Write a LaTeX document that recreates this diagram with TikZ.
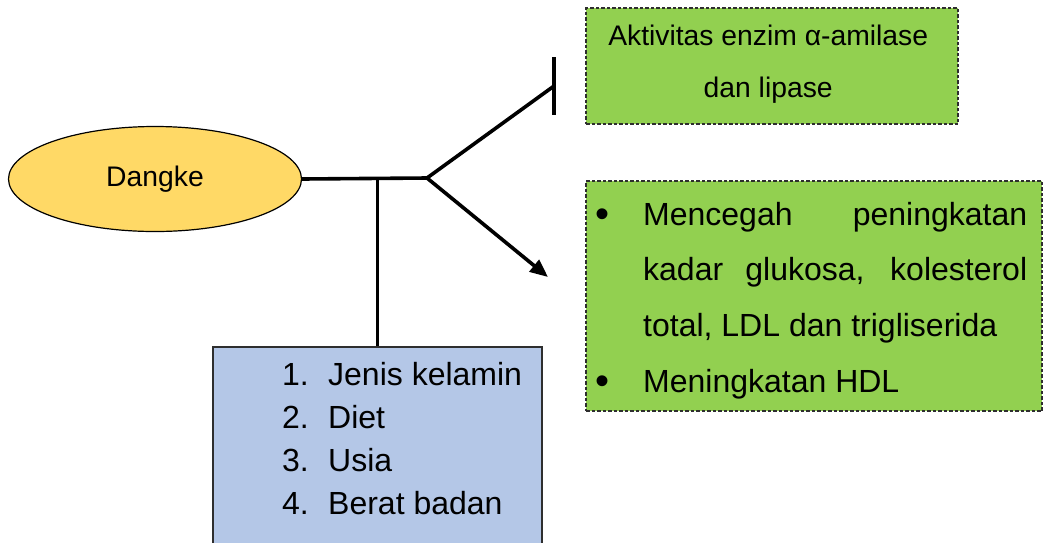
\documentclass[tikz,border=0pt]{standalone}
\usepackage{fontspec}
\setmainfont{Liberation Sans}
\usetikzlibrary{shapes.geometric,arrows.meta}
\definecolor{gfill}{HTML}{92D050}
\definecolor{yfill}{HTML}{FFD966}
\definecolor{bfill}{HTML}{B4C7E7}
\definecolor{bord}{HTML}{2E2E2E}
\newcommand{\bigbul}{{\fontsize{40}{40}\selectfont\raisebox{-2.5pt}{•}}}
\tikzset{
  gbox/.style={draw=bord, line width=1.2pt, dash pattern=on 3.5pt off 2pt, fill=gfill, inner sep=0pt},
  bbox/.style={draw=bord, line width=1.3pt, fill=bfill, inner sep=0pt},
  ebox/.style={ellipse, draw=black, line width=1.2pt, fill=yfill, inner sep=0pt,
    minimum width=293pt, minimum height=105pt, font=\fontsize{28.3}{34}\selectfont},
  txt/.style={inner sep=0pt, anchor=base west},
  conn/.style={line width=3.6pt, line join=miter},
}
\begin{document}
\begin{tikzpicture}[x=1pt,y=-1pt]
\useasboundingbox (0,0) rectangle (1044,542);
\begin{scope}
\clip (0,0) rectangle (1044,542);
% boxes
\node[gbox, minimum width=372pt, minimum height=116pt] (enz) at (772,66) {};
\node[gbox, minimum width=456pt, minimum height=230pt] (eff) at (814,296) {};
\node[bbox, minimum width=329pt, minimum height=215pt] (fac) at (377.5,454.5) {};
\node[ebox] (dangke) at (155,179) {\raisebox{6pt}{Dangke}};
% texts
\node[txt] (enzt) at (586,45) {\fontsize{28.3}{34}\selectfont\vtop{\baselineskip=52pt
  \hbox to 364pt{\hfil Aktivitas enzim α-amilase\hfil}
  \hbox to 364pt{\hfil dan lipase\hfil}}};
\node[txt] (efft) at (595,225) {\fontsize{32}{40}\selectfont\vtop{\baselineskip=55.7pt
  \hbox{\makebox[48pt][l]{\bigbul}\makebox[384pt][s]{Mencegah peningkatan}}
  \hbox{\hspace{48pt}\makebox[384pt][s]{kadar glukosa, kolesterol}}
  \hbox{\hspace{48pt}total, LDL dan trigliserida}
  \hbox{\makebox[48pt][l]{\bigbul}Meningkatan HDL}}};
\node[txt] (fact) at (282,385) {\fontsize{32}{40}\selectfont\vtop{\baselineskip=43.3pt
  \hbox{\makebox[46pt][l]{1.}Jenis kelamin}
  \hbox{\makebox[46pt][l]{2.}Diet}
  \hbox{\makebox[46pt][l]{3.}Usia}
  \hbox{\makebox[46pt][l]{4.}Berat badan}}};
% connectors
\coordinate (branch) at (427,178);
\coordinate (tee) at (554,86);
\coordinate (arrend) at (548,277);
\draw[conn] (dangke.east) -- (branch);
\draw[conn, line width=3.2pt] (fac.north) -- (fac.north |- branch);
\draw[conn, -{Triangle[length=18pt,width=15pt]}] (tee) -- (branch) -- (arrend);
\draw[line width=3.6pt] (tee) ++(0,-29) -- ++(0,58);
\end{scope}
\end{tikzpicture}
\end{document}
